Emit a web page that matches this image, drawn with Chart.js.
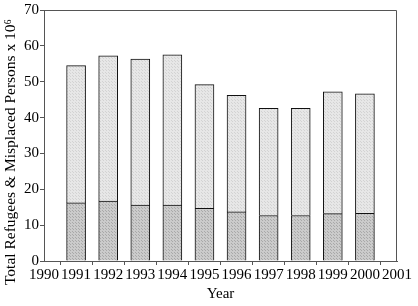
<!DOCTYPE html>
<html>
<head>
<meta charset="utf-8">
<script src="https://cdn.jsdelivr.net/npm/chart.js@4"></script>
<style>
  html, body { margin: 0; padding: 0; background: #fff; }
</style>
</head>
<body>
<canvas id="chart" width="418" height="306"></canvas>
<script>
const years = [1991, 1992, 1993, 1994, 1995, 1996, 1997, 1998, 1999, 2000];
const lowerPart = [16.2, 16.7, 15.6, 15.6, 14.7, 13.7, 12.7, 12.7, 13.2, 13.3];
const totals = [54.5, 57.2, 56.3, 57.5, 49.2, 46.2, 42.6, 42.6, 47.2, 46.6];
const upperPart = totals.map((t, i) => +(t - lowerPart[i]).toFixed(1));
const yTitle = 'Total Refugees & Misplaced Persons x 10\u2076';

// little textures for the two shades
function makePattern(base, dots, step) {
    const c = document.createElement('canvas');
    c.width = step; c.height = step;
    const g = c.getContext('2d');
    g.fillStyle = base;
    g.fillRect(0, 0, step, step);
    g.fillStyle = dots;
    g.fillRect(0, 0, 1, 1);
    g.fillRect(Math.floor(step / 2), Math.floor(step / 2), 1, 1);
    return g.createPattern(c, 'repeat');
}
const ctx = document.getElementById('chart').getContext('2d');
const darkFill = makePattern('#cbcbcb', '#a9a9a9', 3);
const lightFill = makePattern('#e7e7e7', '#d3d3d3', 3);

// top + right frame, and the y title (sits lower than the plot centre in the original)
const framePlugin = {
    id: 'frame',
    afterDraw(chart) {
        const a = chart.chartArea;
        const g = chart.ctx;
        g.save();
        g.strokeStyle = '#555';
        g.lineWidth = 1;
        g.beginPath();
        g.moveTo(a.left, a.top + 0.5);
        g.lineTo(a.right - 0.5, a.top + 0.5);
        g.lineTo(a.right - 0.5, a.bottom);
        g.stroke();

        g.translate(11, 152);
        g.rotate(-Math.PI / 2);
        g.fillStyle = '#000';
        g.font = '15.5px "Liberation Serif"';
        g.textAlign = 'center';
        g.textBaseline = 'middle';
        g.fillText(yTitle, 0, 0);
        g.restore();
    }
};

new Chart(ctx, {
    type: 'bar',
    data: {
        datasets: [
            {
                label: 'lower',
                data: years.map((y, i) => ({x: y, y: lowerPart[i]})),
                backgroundColor: darkFill,
                borderColor: '#111',
                borderWidth: 1,
                barThickness: 19
            },
            {
                label: 'upper',
                data: years.map((y, i) => ({x: y, y: upperPart[i]})),
                backgroundColor: lightFill,
                borderColor: '#111',
                borderWidth: 1,
                barThickness: 19
            }
        ]
    },
    options: {
        responsive: false,
        animation: false,
        maintainAspectRatio: false,
        layout: { padding: { top: 7, right: 21, left: 23, bottom: 2 } },
        plugins: {
            legend: { display: false },
            tooltip: { enabled: false }
        },
        scales: {
            x: {
                type: 'linear',
                stacked: true,
                min: 1990,
                max: 2001,
                offset: false,
                grid: { display: true, drawOnChartArea: false, tickLength: 4, color: '#555' },
                border: { color: '#555' },
                ticks: {
                    stepSize: 1,
                    autoSkip: false,
                    maxRotation: 0,
                    color: '#000',
                    padding: 1,
                    font: { family: 'Liberation Serif', size: 15 },
                    callback: v => String(v)
                },
                title: {
                    display: true,
                    text: 'Year',
                    color: '#000',
                    padding: { top: 0, bottom: 1 },
                    font: { family: 'Liberation Serif', size: 15 }
                }
            },
            y: {
                stacked: true,
                min: 0,
                max: 70,
                grid: { display: true, drawOnChartArea: false, tickLength: 4, color: '#555' },
                border: { color: '#555' },
                ticks: {
                    stepSize: 10,
                    color: '#000',
                    padding: 1,
                    font: { family: 'Liberation Serif', size: 15 }
                }
            }
        }
    },
    plugins: [framePlugin]
});
</script>
</body>
</html>
